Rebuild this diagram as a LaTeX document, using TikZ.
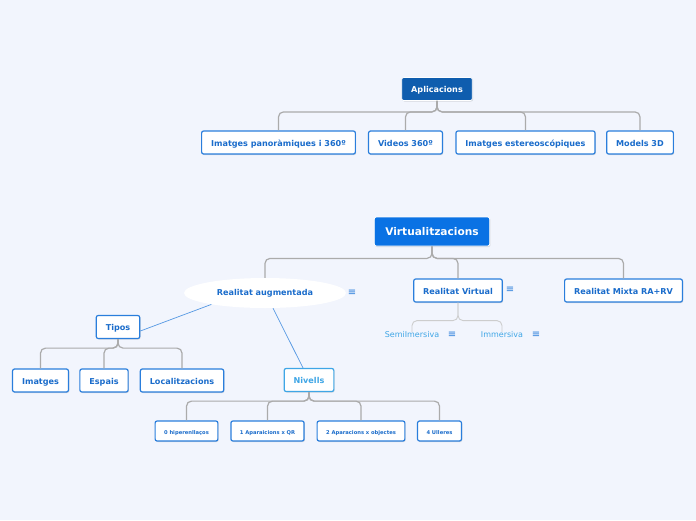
\documentclass[tikz,border=0pt]{standalone}
\usepackage{fontspec}
\setmainfont{DejaVu Sans}
\usetikzlibrary{shapes.geometric,shadows}

\definecolor{bgcol}{HTML}{F2F5FD}
\definecolor{topblue}{HTML}{0F5DAE}
\definecolor{rootblue}{HTML}{0A72E4}
\definecolor{txtblue}{HTML}{1A6CCB}
\definecolor{boxline}{HTML}{2A7EDC}
\definecolor{lightblue}{HTML}{3FA6E6}
\definecolor{linegray}{HTML}{ABABAB}

\begin{document}
\begin{tikzpicture}[x=1pt,y=-1pt,font=\bfseries]

    % styles
    \tikzstyle{box} = [draw=boxline,line width=1.2pt,fill=white,rounded corners=2pt,
        text=txtblue,font=\fontsize{8.1}{9}\selectfont\bfseries,inner xsep=9.5pt,
        text height=1.6ex,text depth=0.3ex,
        minimum height=23pt,drop shadow={shadow xshift=0.8pt,shadow yshift=-1pt,opacity=0.25}]
    \tikzstyle{small} = [box,font=\fontsize{5.2}{6}\selectfont\bfseries,inner xsep=9pt,minimum height=20pt]
    \tikzstyle{head} = [box,draw=white,text=white,line width=0.8pt]
    \tikzstyle{conn} = [draw=linegray,line width=1.2pt,rounded corners=5pt]
    \tikzstyle{link} = [draw=boxline!80,line width=0.7pt]
    \tikzstyle{icon} = [text=boxline,font=\fontsize{10}{10}\selectfont]
    \tikzstyle{plain} = [text=lightblue,font=\fontsize{8}{9}\selectfont]

    % background
    \fill[bgcol] (0,0) rectangle (696,520);
    \useasboundingbox (0,0) rectangle (696,520);

    % aplicacions
    \node[head,fill=topblue] (apl) at (437,89) {Aplicacions};
    \node[box] (pano) at (278.5,142.5) {Imatges panoràmiques i 360º};
    \node[box] (video) at (405.5,142.5) {Videos 360º};
    \node[box] (estereo) at (525.5,142.5) {Imatges estereoscópiques};
    \node[box] (models) at (640,142.5) {Models 3D};
    \foreach \c in {pano,video,estereo,models} {
        \draw[conn] (apl.south) -- ++(0,11) -| (\c.north);
    }

    % virtualitzacions
    \node[head,fill=rootblue,minimum height=29pt,inner xsep=11pt,
        font=\fontsize{10.6}{12}\selectfont\bfseries] (virt) at (432,231.5) {Virtualitzacions};
    \node[ellipse,fill=white,minimum width=162pt,minimum height=30pt,text=txtblue,
        font=\fontsize{8.1}{9}\selectfont\bfseries] (ra) at (265,293) {Realitat augmentada};
    \node[box] (rv) at (458,290.5) {Realitat Virtual};
    \node[box] (mixta) at (623.5,290.5) {Realitat Mixta RA+RV};
    \draw[conn] (virt.south) -- ++(0,12) -| (ra.north);
    \foreach \c in {rv,mixta} {
        \draw[conn] (virt.south) -- ++(0,12) -| (\c.north);
    }
    \node[icon] (raicon) at (352,293) {≡};
    \node[icon] (rvicon) at (510,290) {≡};

    % realitat virtual
    \node[plain] (semi) at (412,335) {SemiImersiva};
    \node[plain] (immer) at (502,335) {Immersiva};
    \node[icon] (semiicon) at (452,335) {≡};
    \node[icon] (immericon) at (536,335) {≡};
    \foreach \c in {semi,immer} {
        \draw[conn,draw=linegray!60,line width=0.9pt] (rv.south) -- ++(0,18) -| ([yshift=-4pt]\c.north);
    }

    % tipos
    \node[box] (tipos) at (118,327) {Tipos};
    \draw[link] ([yshift=-4pt]tipos.east) -- (ra.192);
    \node[box] (imatges) at (40.5,380.5) {Imatges};
    \node[box] (espais) at (104,380.5) {Espais};
    \node[box] (local) at (182,380.5) {Localitzacions};
    \foreach \c in {imatges,espais,local} {
        \draw[conn] (tipos.south) -- ++(0,9) -| (\c.north);
    }

    % nivells
    \node[box,draw=lightblue,text=lightblue] (niv) at (309,380) {Nivells};
    \draw[link] ([xshift=8pt]ra.south) -- ([xshift=-6pt]niv.north);
    \node[small] (n0) at (186.5,431) {0 hiperenllaços};
    \node[small] (n1) at (267.5,431) {1 Aparaicions x QR};
    \node[small] (n2) at (361,431) {2 Aparacions x objectes};
    \node[small] (n4) at (439.5,431) {4 Ulleres};
    \foreach \c in {n0,n1,n2,n4} {
        \draw[conn] (niv.south) -- ++(0,9) -| (\c.north);
    }
\end{tikzpicture}
\end{document}
